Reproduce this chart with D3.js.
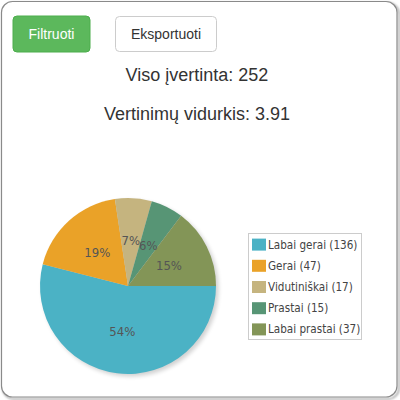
<!DOCTYPE html>
<html><head><meta charset="utf-8">
<script src="https://cdn.jsdelivr.net/npm/d3@7"></script>
<style>html,body{margin:0;padding:0;background:#fff;}</style>
</head><body>
<svg id="c" width="400" height="400"></svg>
<script>
const categories = ["Labai gerai", "Gerai", "Vidutiniškai", "Prastai", "Labai prastai"];
const counts = [136, 47, 17, 15, 37];
const colors = ["#4bb2c5", "#EAA228", "#c5b47f", "#579575", "#839557"];
const totalLabel = "Viso įvertinta: 252";
const avgLabel = "Vertinimų vidurkis: 3.91";
const buttons = ["Filtruoti", "Eksportuoti"];

const svg = d3.select("#c");
const defs = svg.append("defs");
const f = defs.append("filter").attr("id","sh").attr("x","-20%").attr("y","-20%").attr("width","140%").attr("height","140%");
f.append("feGaussianBlur").attr("stdDeviation",2);
const f2 = defs.append("filter").attr("id","fs").attr("x","-10%").attr("y","-10%").attr("width","120%").attr("height","120%");
f2.append("feGaussianBlur").attr("stdDeviation",1);

// frame
svg.append("rect").attr("x",3).attr("y",3).attr("width",396).attr("height",396).attr("rx",11)
  .attr("fill","none").attr("stroke","#999").attr("stroke-width",1.5).attr("filter","url(#fs)");
svg.append("rect").attr("x",1.5).attr("y",1.5).attr("width",395.5).attr("height",395.5).attr("rx",11)
  .attr("fill","#fff").attr("stroke","#8a8a8a").attr("stroke-width",1.2);

// buttons
svg.append("rect").attr("x",13).attr("y",16).attr("width",77).attr("height",36).attr("rx",4)
  .attr("fill","#5cb85c").attr("stroke","#4cae4c");
svg.append("text").attr("x",51.5).attr("y",39).attr("text-anchor","middle")
  .attr("font-family","Liberation Sans, Arial, sans-serif").attr("font-size",14).attr("fill","#fff").text(buttons[0]);
svg.append("rect").attr("x",115.5).attr("y",16.5).attr("width",101).attr("height",35).attr("rx",4)
  .attr("fill","#fff").attr("stroke","#ccc");
svg.append("text").attr("x",166).attr("y",39).attr("text-anchor","middle")
  .attr("font-family","Liberation Sans, Arial, sans-serif").attr("font-size",14).attr("fill","#333").text(buttons[1]);

// titles
svg.append("text").attr("x",197).attr("y",81).attr("text-anchor","middle")
  .attr("font-family","Liberation Sans, Arial, sans-serif").attr("font-size",18).attr("fill","#333").text(totalLabel);
svg.append("text").attr("x",197).attr("y",120).attr("text-anchor","middle")
  .attr("font-family","Liberation Sans, Arial, sans-serif").attr("font-size",18).attr("fill","#333").text(avgLabel);

// pie
const cx = 128, cy = 286, r = 88;
const total = d3.sum(counts);
const pie = d3.pie().sort(null).startAngle(Math.PI/2).endAngle(Math.PI/2 + 2*Math.PI);
const arcs = pie(counts);
const arc = d3.arc().innerRadius(0).outerRadius(r);
const g = svg.append("g").attr("transform",`translate(${cx},${cy})`);
g.append("circle").attr("cx",2.5).attr("cy",2.5).attr("r",r).attr("fill","#000").attr("opacity",0.18).attr("filter","url(#sh)");
g.selectAll("path.s").data(arcs).join("path").attr("class","s")
  .attr("d",arc).attr("fill",(d,i)=>colors[i]);
const lab = d3.arc().innerRadius(r*0.52).outerRadius(r*0.52);
g.selectAll("text.l").data(arcs).join("text").attr("class","l")
  .attr("transform",d=>`translate(${lab.centroid(d)})`)
  .attr("text-anchor","middle").attr("dy","0.35em")
  .attr("font-family","DejaVu Sans Condensed, DejaVu Sans, sans-serif").attr("font-size",13).attr("fill","#555")
  .text(d=>Math.round(d.data/total*100)+"%");

// legend
const lg = svg.append("g");
lg.append("rect").attr("x",248.5).attr("y",233.5).attr("width",113).attr("height",106)
  .attr("fill","#fff").attr("stroke","#ccc");
const rowY = d3.scaleBand().domain(d3.range(categories.length)).range([234,340]);
categories.forEach((c,i)=>{
  const y = rowY(i) + rowY.bandwidth()/2;
  lg.append("rect").attr("x",252).attr("y",y-6).attr("width",14).attr("height",12).attr("fill",colors[i]);
  lg.append("text").attr("x",268).attr("y",y).attr("dy","0.35em")
    .attr("font-family","DejaVu Sans Condensed, DejaVu Sans, sans-serif").attr("font-size",11.6).attr("fill","#444")
    .text(`${c} (${counts[i]})`);
});
</script>
</body></html>
